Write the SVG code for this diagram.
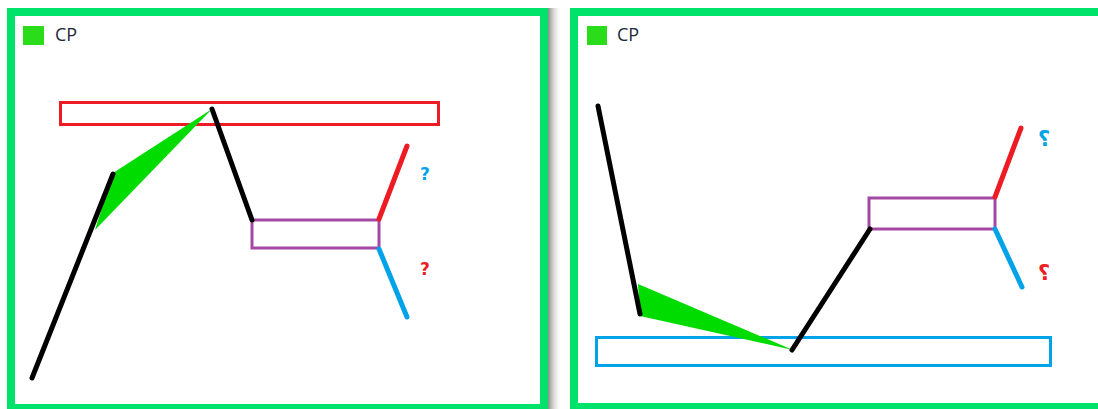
<svg xmlns="http://www.w3.org/2000/svg" width="1098" height="409" viewBox="0 0 1098 409">
<defs>
<linearGradient id="shadow" x1="0" y1="0" x2="1" y2="0">
<stop offset="0" stop-color="#8a8a8a"/>
<stop offset="1" stop-color="#ffffff" stop-opacity="0"/>
</linearGradient>
<style>
.panel{fill:#fff;stroke:#00E36B;stroke-width:8}
.legend{fill:#2ADC1A}
.lbl{font-family:"Open Sans","DejaVu Sans",sans-serif;font-size:18px;font-weight:normal;fill:#1c2838}
.zone{fill:none;stroke-width:3}
.black{stroke:#000;stroke-width:5;stroke-linecap:round;fill:none}
.red{stroke:#ED1C24;stroke-width:5;stroke-linecap:round;fill:none}
.blue{stroke:#00A2E8;stroke-width:5;stroke-linecap:round;fill:none}
.cp{fill:#00DC00}
.q{font-family:"DejaVu Sans",sans-serif;font-size:17px;font-weight:bold;text-anchor:middle}
.qa{font-family:"DejaVu Sans",sans-serif;font-size:21px;font-weight:bold;text-anchor:middle}
</style>
</defs>
<rect width="1098" height="409" fill="#fff"/>
<rect x="548" y="8" width="14" height="401" fill="url(#shadow)"/>

<g id="panel-left">
<rect class="panel" x="11" y="12" width="533" height="396"/>
<rect class="legend" x="23" y="26" width="21" height="19"/>
<text class="lbl" x="55" y="41">CP</text>
</g>
<g id="panel-right">
<rect class="panel" x="574" y="12" width="530" height="395"/>
<rect class="legend" x="587" y="26" width="20" height="19"/>
<text class="lbl" x="617" y="41">CP</text>
</g>

<g id="zone-red-left"><rect class="zone" stroke="#ED1C24" x="60.5" y="102.5" width="378" height="22"/></g>
<g id="zone-purple-left"><rect class="zone" stroke="#A349A4" x="252" y="220" width="127" height="28"/></g>
<g id="zone-blue-right"><rect class="zone" stroke="#00A2E8" x="596.5" y="337.5" width="454" height="28"/></g>
<g id="zone-purple-right"><rect class="zone" stroke="#A349A4" x="869" y="198" width="126" height="31"/></g>

<g id="cp-left"><path class="cp" d="M113,173 L212,109 L95,230 Z"/></g>
<g id="cp-right"><path class="cp" d="M638,284 L793,350 L640,316 Z"/></g>

<g id="connectors">
<polyline class="black" points="32,378 113,174"/>
<polyline class="black" points="212,109 252,220"/>
<polyline class="red" points="379,219 407,146"/>
<polyline class="blue" points="379,249 407,317"/>
<polyline class="black" points="598,106 640,314"/>
<polyline class="black" points="792,350 870,229"/>
<polyline class="red" points="995,197 1021,128"/>
<polyline class="blue" points="995,229 1022,287"/>
</g>

<g id="labels">
<text class="q" x="425" y="180" fill="#00A2E8">?</text>
<text class="q" x="425" y="275" fill="#ED1C24">?</text>
<text class="qa" x="1044" y="146" fill="#00A2E8">؟</text>
<text class="qa" x="1044" y="280" fill="#ED1C24">؟</text>
</g>
</svg>
